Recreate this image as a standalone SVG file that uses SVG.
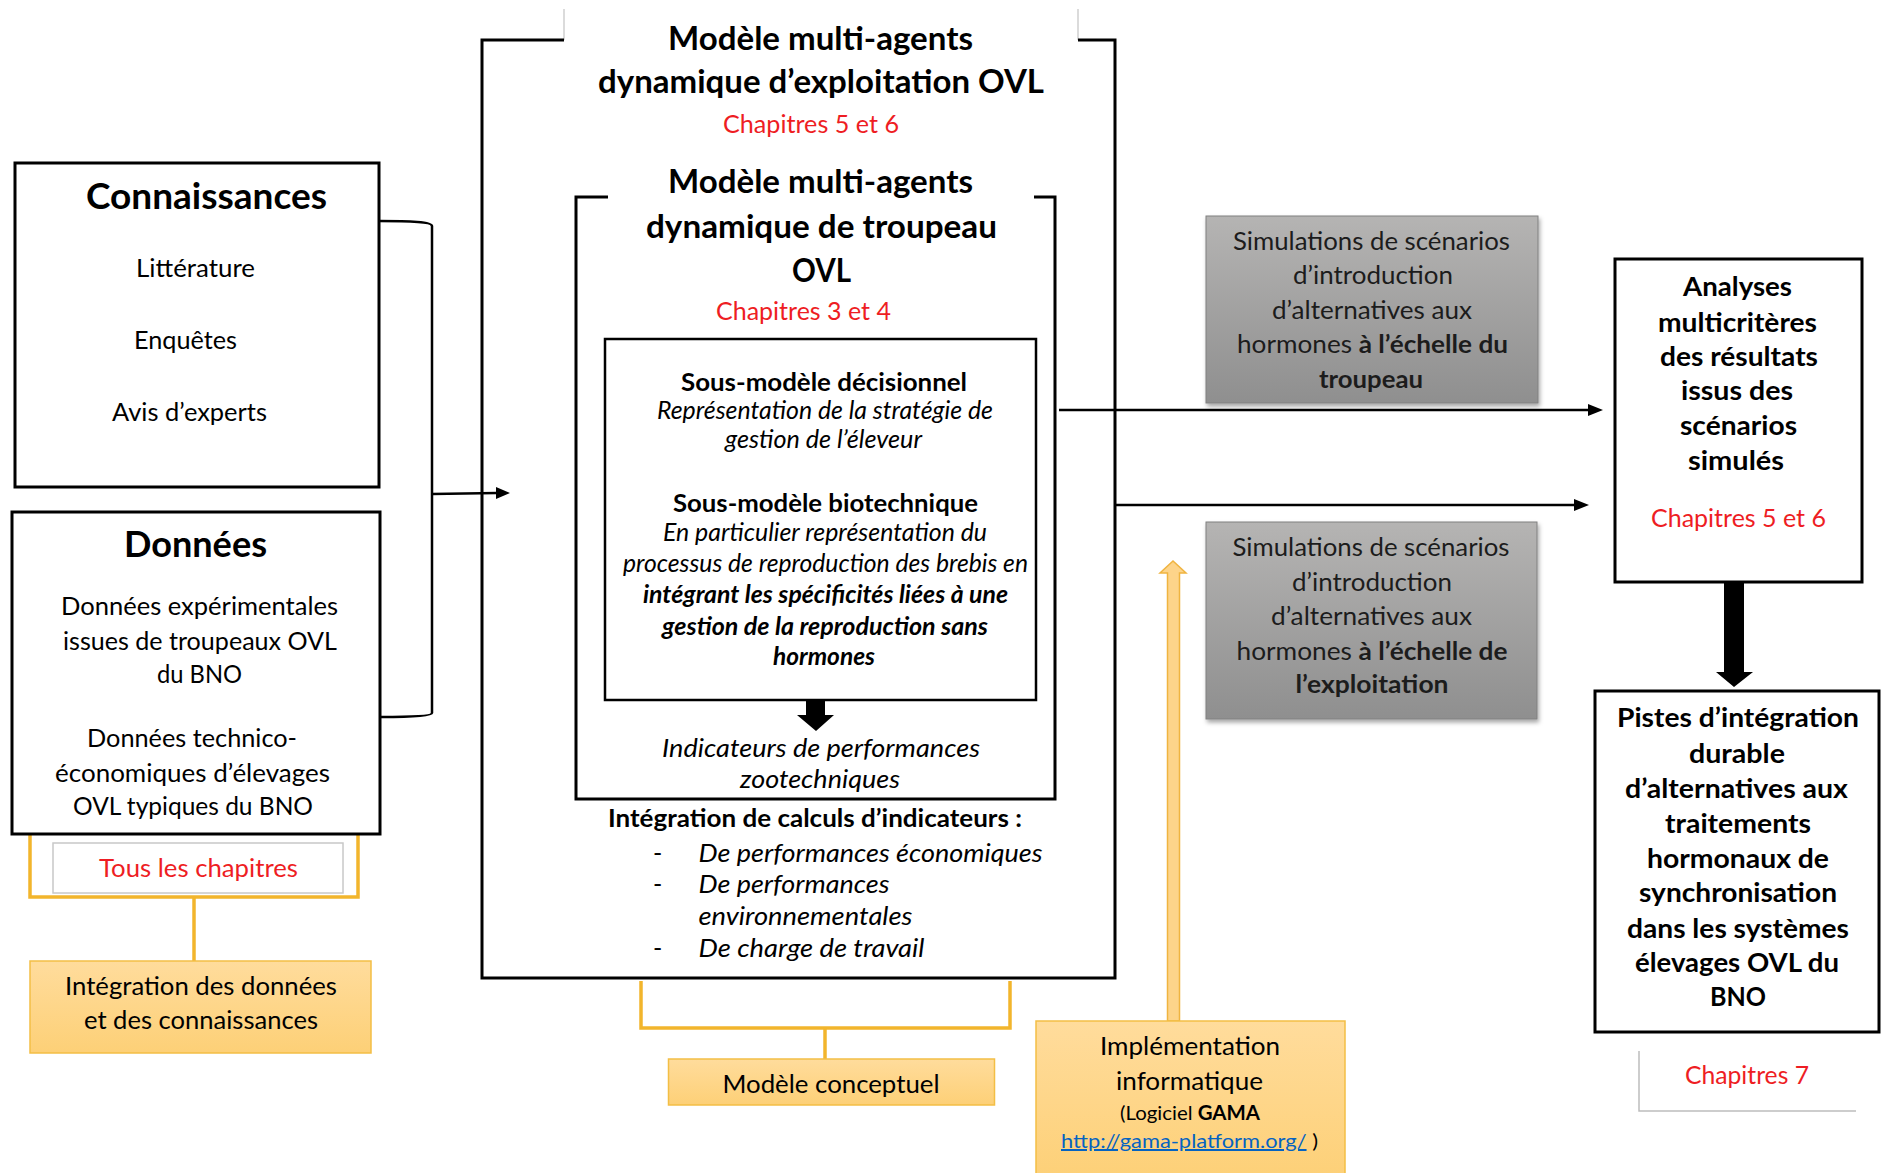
<svg xmlns="http://www.w3.org/2000/svg" width="1881" height="1173" viewBox="0 0 1881 1173">
<style>
.t{font-family:Lato,"Open Sans","Liberation Sans",sans-serif;fill:#000}
.b{font-weight:700}
.i{font-style:italic}
.red{fill:#EE1D23}
.g{fill:#1c1c1c}
.s20{font-size:20px}
.s25{font-size:25px}
.s28{font-size:27.5px}
.s32{font-size:32px}
.s37{font-size:36.5px}
.box{fill:#fff;stroke:#000;stroke-width:3}
.ln{fill:none;stroke:#000;stroke-width:2.5}
.yl{fill:none;stroke:#F2B52C;stroke-width:3.5}
.ybox{fill:url(#yg);stroke:#F3BE45;stroke-width:1.5}
.gbox{fill:url(#gg);stroke:#808080;stroke-width:1;filter:url(#sh)}
.tick{fill:none;stroke:#cfcfcf;stroke-width:1.5}
</style>
<defs>
<linearGradient id="yg" x1="0" y1="0" x2="0" y2="1"><stop offset="0" stop-color="#FFDC9C"/><stop offset="1" stop-color="#FDD077"/></linearGradient>
<linearGradient id="gg" x1="0" y1="0" x2="0" y2="1"><stop offset="0" stop-color="#B5B4B3"/><stop offset="1" stop-color="#8F8F8F"/></linearGradient>
<filter id="sh" x="-5%" y="-5%" width="110%" height="115%"><feDropShadow dx="1.5" dy="3" stdDeviation="2" flood-color="#000" flood-opacity="0.35"/></filter>
</defs>
<rect width="1881" height="1173" fill="#fff"/>

<g id="connectors">
<path class="ln" d="M379,221 C410,221 432,222 432,226 L432,713 C432,716 410,717 381,717"/>
<path class="ln" d="M432,494 L497,493"/>
<polygon points="496,487 510,493 496,499" fill="#000"/>
<path class="ln" d="M1059,410 H1590"/>
<polygon points="1588,404 1603,410 1588,416" fill="#000"/>
<path class="ln" d="M1116,505 H1575"/>
<polygon points="1574,499 1589,505 1574,511" fill="#000"/>
<polygon points="1724,583 1744,583 1744,672 1753,672 1734,687 1716,672 1724,672" fill="#000"/>
<polygon points="806,700 825,700 825,715 834,715 816,731 797,715 806,715" fill="#000"/>
<path class="yl" d="M30,835 V897 H358 V835"/>
<path class="yl" d="M194,897 V961"/>
<path class="yl" d="M641,981 V1028 H1010 V981"/>
<path class="yl" d="M825,1028 V1059"/>
<polygon points="1167.5,1021 1167.5,573 1160,573 1173,561 1186,573 1179.5,573 1179.5,1021" fill="#FDD48A" stroke="#F0B440" stroke-width="1.5"/>
</g>

<g id="connaissances">
<rect class="box" x="15" y="163" width="364" height="324"/>
<text class="t b s37" x="206.5" y="209" text-anchor="middle" textLength="241" lengthAdjust="spacingAndGlyphs">Connaissances</text>
<text class="t s25" x="195.5" y="277" text-anchor="middle" textLength="119" lengthAdjust="spacingAndGlyphs">Littérature</text>
<text class="t s25" x="185.5" y="349" text-anchor="middle" textLength="103" lengthAdjust="spacingAndGlyphs">Enquêtes</text>
<text class="t s25" x="189.5" y="421" text-anchor="middle" textLength="155" lengthAdjust="spacingAndGlyphs">Avis d’experts</text>
</g>

<g id="donnees">
<rect class="box" x="12" y="512" width="368" height="322"/>
<text class="t b s37" x="195.5" y="557" text-anchor="middle" textLength="143" lengthAdjust="spacingAndGlyphs">Données</text>
<text class="t s25" x="199.5" y="615" text-anchor="middle" textLength="277" lengthAdjust="spacingAndGlyphs">Données expérimentales</text>
<text class="t s25" x="200" y="650" text-anchor="middle" textLength="274" lengthAdjust="spacingAndGlyphs">issues de troupeaux OVL</text>
<text class="t s25" x="199.5" y="683" text-anchor="middle" textLength="85" lengthAdjust="spacingAndGlyphs">du BNO</text>
<text class="t s25" x="192" y="747" text-anchor="middle" textLength="210" lengthAdjust="spacingAndGlyphs">Données technico-</text>
<text class="t s25" x="192.5" y="782" text-anchor="middle" textLength="275" lengthAdjust="spacingAndGlyphs">économiques d’élevages</text>
<text class="t s25" x="193" y="815" text-anchor="middle" textLength="240" lengthAdjust="spacingAndGlyphs">OVL typiques du BNO</text>
</g>

<g id="tous-chapitres">
<rect x="53" y="843" width="290" height="50" fill="#fff" stroke="#c8c8c8" stroke-width="1.5"/>
<text class="t s25 red" x="198.5" y="877" text-anchor="middle" textLength="199" lengthAdjust="spacingAndGlyphs">Tous les chapitres</text>
</g>

<g id="integration">
<rect class="ybox" x="30" y="961" width="341" height="92"/>
<text class="t s25" x="201" y="995" text-anchor="middle" textLength="272" lengthAdjust="spacingAndGlyphs">Intégration des données</text>
<text class="t s25" x="201" y="1029" text-anchor="middle" textLength="234" lengthAdjust="spacingAndGlyphs">et des connaissances</text>
</g>

<g id="modele-exploitation">
<path class="tick" d="M564,40 V9 M1078,40 V9"/>
<path d="M564,40 H482 V978 H1115 V40 H1078" fill="none" stroke="#000" stroke-width="3"/>
<text class="t b s32" x="820.5" y="50" text-anchor="middle" textLength="305" lengthAdjust="spacingAndGlyphs">Modèle multi-agents</text>
<text class="t b s32" x="821" y="93" text-anchor="middle" textLength="446" lengthAdjust="spacingAndGlyphs">dynamique d’exploitation OVL</text>
<text class="t s25 red" x="811" y="133" text-anchor="middle" textLength="176" lengthAdjust="spacingAndGlyphs">Chapitres 5 et 6</text>
<text class="t b s25" x="815" y="827" text-anchor="middle" textLength="414" lengthAdjust="spacingAndGlyphs">Intégration de calculs d’indicateurs :</text>
<text class="t s25" x="653" y="862">-</text>
<text class="t s25" x="653" y="893">-</text>
<text class="t s25" x="653" y="957">-</text>
<text class="t i s25" x="698.5" y="862" textLength="344" lengthAdjust="spacingAndGlyphs">De performances économiques</text>
<text class="t i s25" x="698.5" y="893" textLength="191" lengthAdjust="spacingAndGlyphs">De performances</text>
<text class="t i s25" x="698.5" y="925" textLength="214" lengthAdjust="spacingAndGlyphs">environnementales</text>
<text class="t i s25" x="698.5" y="957" textLength="226" lengthAdjust="spacingAndGlyphs">De charge de travail</text>
</g>

<g id="modele-troupeau">
<path d="M608,197 H576 V799 H1055 V197 H1034" fill="none" stroke="#000" stroke-width="3"/>
<text class="t b s32" x="820.5" y="193" text-anchor="middle" textLength="305" lengthAdjust="spacingAndGlyphs">Modèle multi-agents</text>
<text class="t b s32" x="821.5" y="238" text-anchor="middle" textLength="351" lengthAdjust="spacingAndGlyphs">dynamique de troupeau</text>
<text class="t b s32" x="821.5" y="282" text-anchor="middle" textLength="59" lengthAdjust="spacingAndGlyphs">OVL</text>
<text class="t s25 red" x="803.5" y="320" text-anchor="middle" textLength="175" lengthAdjust="spacingAndGlyphs">Chapitres 3 et 4</text>
<text class="t i s25" x="821" y="757" text-anchor="middle" textLength="318" lengthAdjust="spacingAndGlyphs">Indicateurs de performances</text>
<text class="t i s25" x="820" y="788" text-anchor="middle" textLength="160" lengthAdjust="spacingAndGlyphs">zootechniques</text>
</g>

<g id="sous-modeles">
<rect x="605" y="339" width="431" height="361" fill="#fff" stroke="#000" stroke-width="2.5"/>
<text class="t b s25" x="824" y="391" text-anchor="middle" textLength="286" lengthAdjust="spacingAndGlyphs">Sous-modèle décisionnel</text>
<text class="t i s25" x="825" y="419" text-anchor="middle" textLength="336" lengthAdjust="spacingAndGlyphs">Représentation de la stratégie de</text>
<text class="t i s25" x="823.5" y="448" text-anchor="middle" textLength="197" lengthAdjust="spacingAndGlyphs">gestion de l’éleveur</text>
<text class="t b s25" x="825.5" y="512" text-anchor="middle" textLength="305" lengthAdjust="spacingAndGlyphs">Sous-modèle biotechnique</text>
<text class="t i s25" x="825" y="541" text-anchor="middle" textLength="324" lengthAdjust="spacingAndGlyphs">En particulier représentation du</text>
<text class="t i s25" x="825.5" y="572" text-anchor="middle" textLength="405" lengthAdjust="spacingAndGlyphs">processus de reproduction des brebis en</text>
<text class="t b i s25" x="825.5" y="603" text-anchor="middle" textLength="365" lengthAdjust="spacingAndGlyphs">intégrant les spécificités liées à une</text>
<text class="t b i s25" x="825" y="635" text-anchor="middle" textLength="326" lengthAdjust="spacingAndGlyphs">gestion de la reproduction sans</text>
<text class="t b i s25" x="824" y="665" text-anchor="middle" textLength="102" lengthAdjust="spacingAndGlyphs">hormones</text>
</g>

<g id="modele-conceptuel">
<rect class="ybox" x="668.5" y="1059" width="326" height="46"/>
<text class="t s25" x="831" y="1093" text-anchor="middle" textLength="217" lengthAdjust="spacingAndGlyphs">Modèle conceptuel</text>
</g>

<g id="implementation">
<rect class="ybox" x="1036" y="1021" width="309" height="160"/>
<text class="t s25" x="1190" y="1055" text-anchor="middle" textLength="180" lengthAdjust="spacingAndGlyphs">Implémentation</text>
<text class="t s25" x="1189.5" y="1090" text-anchor="middle" textLength="147" lengthAdjust="spacingAndGlyphs">informatique</text>
<text class="t s20" x="1190" y="1120" text-anchor="middle" textLength="140" lengthAdjust="spacingAndGlyphs">(Logiciel <tspan class="b">GAMA</tspan></text>
<text class="t s20" x="1061" y="1148" textLength="257" lengthAdjust="spacingAndGlyphs"><tspan fill="#0563C1" text-decoration="underline">http://gama-platform.org/</tspan> )</text>
</g>

<g id="sim-troupeau">
<rect class="gbox" x="1206" y="216" width="332" height="187"/>
<text class="t g s25" x="1371.5" y="250" text-anchor="middle" textLength="277" lengthAdjust="spacingAndGlyphs">Simulations de scénarios</text>
<text class="t g s25" x="1373" y="284" text-anchor="middle" textLength="160" lengthAdjust="spacingAndGlyphs">d’introduction</text>
<text class="t g s25" x="1372" y="319" text-anchor="middle" textLength="200" lengthAdjust="spacingAndGlyphs">d’alternatives aux</text>
<text class="t g s25" x="1372.5" y="353" text-anchor="middle" textLength="271" lengthAdjust="spacingAndGlyphs">hormones <tspan class="b">à l’échelle du</tspan></text>
<text class="t g b s25" x="1371" y="388" text-anchor="middle" textLength="104" lengthAdjust="spacingAndGlyphs">troupeau</text>
</g>

<g id="sim-exploitation">
<rect class="gbox" x="1206" y="522" width="331" height="197"/>
<text class="t g s25" x="1371" y="556" text-anchor="middle" textLength="277" lengthAdjust="spacingAndGlyphs">Simulations de scénarios</text>
<text class="t g s25" x="1372" y="591" text-anchor="middle" textLength="160" lengthAdjust="spacingAndGlyphs">d’introduction</text>
<text class="t g s25" x="1371.5" y="625" text-anchor="middle" textLength="201" lengthAdjust="spacingAndGlyphs">d’alternatives aux</text>
<text class="t g s25" x="1372" y="660" text-anchor="middle" textLength="271" lengthAdjust="spacingAndGlyphs">hormones <tspan class="b">à l’échelle de</tspan></text>
<text class="t g b s25" x="1372" y="693" text-anchor="middle" textLength="153" lengthAdjust="spacingAndGlyphs">l’exploitation</text>
</g>

<g id="analyses">
<rect class="box" x="1615" y="259" width="247" height="323"/>
<text class="t b s28" x="1737.5" y="296" text-anchor="middle" textLength="109" lengthAdjust="spacingAndGlyphs">Analyses</text>
<text class="t b s28" x="1737.5" y="332" text-anchor="middle" textLength="159" lengthAdjust="spacingAndGlyphs">multicritères</text>
<text class="t b s28" x="1739" y="366" text-anchor="middle" textLength="158" lengthAdjust="spacingAndGlyphs">des résultats</text>
<text class="t b s28" x="1737" y="400" text-anchor="middle" textLength="112" lengthAdjust="spacingAndGlyphs">issus des</text>
<text class="t b s28" x="1738.5" y="435" text-anchor="middle" textLength="117" lengthAdjust="spacingAndGlyphs">scénarios</text>
<text class="t b s28" x="1736" y="470" text-anchor="middle" textLength="96" lengthAdjust="spacingAndGlyphs">simulés</text>
<text class="t s25 red" x="1738.5" y="527" text-anchor="middle" textLength="175" lengthAdjust="spacingAndGlyphs">Chapitres 5 et 6</text>
</g>

<g id="pistes">
<rect class="box" x="1595" y="691" width="284" height="341"/>
<text class="t b s28" x="1738" y="727" text-anchor="middle" textLength="242" lengthAdjust="spacingAndGlyphs">Pistes d’intégration</text>
<text class="t b s28" x="1737" y="763" text-anchor="middle" textLength="96" lengthAdjust="spacingAndGlyphs">durable</text>
<text class="t b s28" x="1736.5" y="798" text-anchor="middle" textLength="223" lengthAdjust="spacingAndGlyphs">d’alternatives aux</text>
<text class="t b s28" x="1738" y="833" text-anchor="middle" textLength="146" lengthAdjust="spacingAndGlyphs">traitements</text>
<text class="t b s28" x="1738" y="868" text-anchor="middle" textLength="182" lengthAdjust="spacingAndGlyphs">hormonaux de</text>
<text class="t b s28" x="1738" y="902" text-anchor="middle" textLength="198" lengthAdjust="spacingAndGlyphs">synchronisation</text>
<text class="t b s28" x="1738" y="938" text-anchor="middle" textLength="222" lengthAdjust="spacingAndGlyphs">dans les systèmes</text>
<text class="t b s28" x="1737" y="972" text-anchor="middle" textLength="204" lengthAdjust="spacingAndGlyphs">élevages OVL du</text>
<text class="t b s28" x="1738" y="1006" text-anchor="middle" textLength="56" lengthAdjust="spacingAndGlyphs">BNO</text>
</g>

<g id="chapitres7">
<path d="M1639,1051 V1111 H1856" fill="none" stroke="#bdbdbd" stroke-width="1.5"/>
<text class="t s25 red" x="1747" y="1084" text-anchor="middle" textLength="124" lengthAdjust="spacingAndGlyphs">Chapitres 7</text>
</g>
</svg>
